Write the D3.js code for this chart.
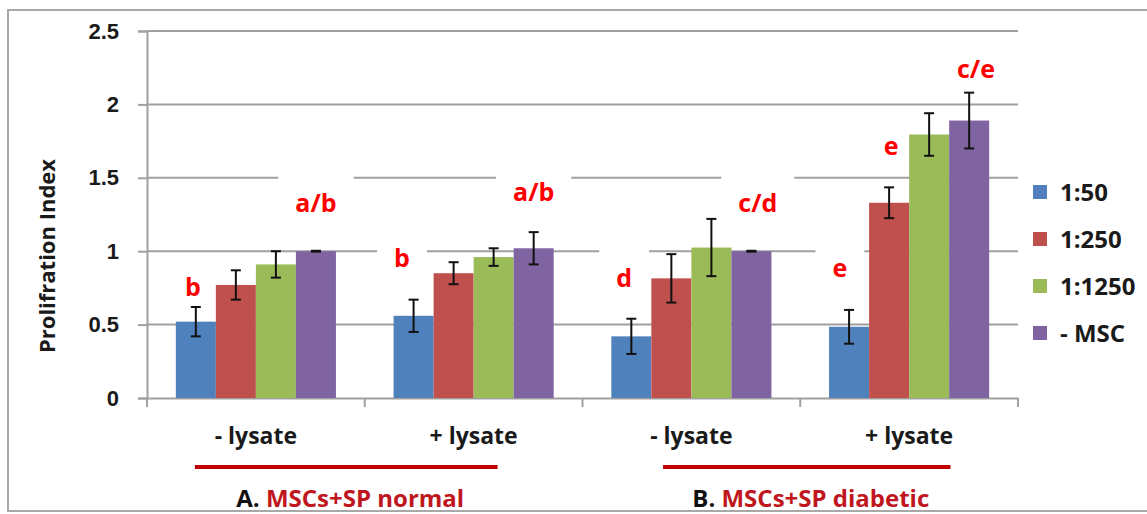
<!DOCTYPE html>
<html>
<head>
<meta charset="utf-8">
<script src="https://cdn.jsdelivr.net/npm/d3@7"></script>
<style>
  html, body { margin: 0; padding: 0; background: #fff; }
  svg { display: block; font-family: "Open Sans", "Liberation Sans", sans-serif; }
</style>
</head>
<body>
<div id="chart"></div>
<script>
//-- data
const categories = ["- lysate", "+ lysate", "- lysate", "+ lysate"];
const series = ["1:50", "1:250", "1:1250", "- MSC"];
const colors = ["#4f81bd", "#c0504d", "#9bbb59", "#8064a2"];
const means = [
  [0.52, 0.77, 0.91, 1.0],
  [0.56, 0.85, 0.96, 1.02],
  [0.42, 0.815, 1.025, 1.0],
  [0.485, 1.33, 1.795, 1.89]
];
const errors = [
  [0.1, 0.1, 0.09, 0.003],
  [0.11, 0.075, 0.06, 0.11],
  [0.12, 0.165, 0.195, 0.003],
  [0.115, 0.105, 0.145, 0.19]
];
const yTicks = [0, 0.5, 1, 1.5, 2, 2.5];
//-- significance letters: text, group, slot (series index), value
const letterText = ["b", "a/b", "b", "a/b", "d", "c/d", "e", "e", "c/e"];
const letterGroup = [0, 0, 1, 1, 2, 2, 3, 3, 3];
const letterSlot = [-0.07, 3, -0.29, 3, -0.18, 3.16, -0.23, 1.05, 3.17];
const letterValue = [0.756, 1.328, 0.954, 1.403, 0.817, 1.328, 0.886, 1.717, 2.241];
//-- panel captions under the axis
const panelPrefix = ["A.", "B."];
const panelNames = ["MSCs+SP normal", "MSCs+SP diabetic"];
const panelSpan = [[0.22, 1.61], [2.37, 3.69]];

//-- dimensions
const width = 1147;
const height = 514;
const plot = { left: 147, right: 1018, top: 31, bottom: 398 };
const gridColor = "#a0a0a0";

const svg = d3.select("#chart").append("svg")
  .attr("width", width)
  .attr("height", height);

//-- outer frame
svg.append("rect")
  .attr("x", 8).attr("y", 10)
  .attr("width", 1160).attr("height", 501)
  .attr("fill", "#fff")
  .attr("stroke", "#a8a8a8")
  .attr("stroke-width", 2);

const keys = categories.map((d, i) => i);
const x0 = d3.scaleBand().domain(keys).range([plot.left, plot.right]).padding(0);
const x1 = d3.scaleBand().domain(series).range([0, x0.bandwidth()])
  .paddingInner(0).paddingOuter(0.72);
const y = d3.scaleLinear().domain([0, 2.5]).range([plot.bottom, plot.top]);

const slotX = (g, s) => x0(g) + x1(series[0]) + s * x1.step() + x1.bandwidth() / 2;
const catX = (u) => plot.left + u * x0.step();

//-- gridlines + y axis
const yAxis = d3.axisLeft(y)
  .tickValues(yTicks)
  .tickSize(9)
  .tickPadding(19)
  .tickFormat((d) => d);
const yg = svg.append("g")
  .attr("transform", `translate(${plot.left},0)`)
  .call(yAxis);
yg.select(".domain").attr("stroke", gridColor).attr("stroke-width", 2);
yg.selectAll(".tick line").attr("stroke", gridColor).attr("stroke-width", 2);
yg.selectAll(".tick text")
  .attr("fill", "#1a1a1a")
  .style("font-size", "22px")
  .style("font-weight", 700);

svg.append("g")
  .selectAll("line")
  .data(yTicks.filter((d) => d > 0))
  .join("line")
  .attr("x1", plot.left).attr("x2", plot.right)
  .attr("y1", (d) => y(d)).attr("y2", (d) => y(d))
  .attr("stroke", gridColor)
  .attr("stroke-width", 2);

//-- x axis
const xAxis = d3.axisBottom(x0).tickValues([]).tickSizeOuter(0);
const xg = svg.append("g")
  .attr("transform", `translate(0,${plot.bottom})`)
  .call(xAxis);
xg.select(".domain").attr("stroke", gridColor).attr("stroke-width", 2);
xg.selectAll("line.sep")
  .data(d3.range(keys.length + 1))
  .join("line")
  .attr("class", "sep")
  .attr("x1", (d) => catX(d)).attr("x2", (d) => catX(d))
  .attr("y1", 0).attr("y2", 9)
  .attr("stroke", gridColor)
  .attr("stroke-width", 2);

//-- category labels
svg.append("g")
  .selectAll("text")
  .data(keys)
  .join("text")
  .attr("x", (d) => x0(d) + x0.bandwidth() / 2)
  .attr("y", 444)
  .attr("text-anchor", "middle")
  .attr("fill", "#1a1a1a")
  .style("font-size", "23px")
  .style("font-weight", 700)
  .text((d) => categories[d]);

//-- letter boxes (white, they hide the gridlines behind them)
const letters = letterText.map((t, i) => ({
  text: t,
  x: slotX(letterGroup[i], letterSlot[i]),
  y: y(letterValue[i])
}));
const boxes = svg.append("g");
const letterG = svg.append("g");

//-- bars
const groups = svg.append("g")
  .selectAll("g")
  .data(keys)
  .join("g")
  .attr("transform", (d) => `translate(${x0(d)},0)`);

groups.selectAll("rect")
  .data((g) => series.map((s, i) => ({ s, i, v: means[g][i], e: errors[g][i] })))
  .join("rect")
  .attr("x", (d) => x1(d.s))
  .attr("y", (d) => y(d.v))
  .attr("width", x1.bandwidth())
  .attr("height", (d) => y(0) - y(d.v))
  .attr("fill", (d) => colors[d.i]);

//-- error bars
const cap = 5;
const err = groups.selectAll("g.err")
  .data((g) => series.map((s, i) => ({ s, v: means[g][i], e: errors[g][i] })))
  .join("g")
  .attr("class", "err")
  .attr("stroke", "#111")
  .attr("stroke-width", 2);
err.append("line")
  .attr("x1", (d) => x1(d.s) + x1.bandwidth() / 2)
  .attr("x2", (d) => x1(d.s) + x1.bandwidth() / 2)
  .attr("y1", (d) => y(d.v + d.e))
  .attr("y2", (d) => y(d.v - d.e));
err.append("line")
  .attr("x1", (d) => x1(d.s) + x1.bandwidth() / 2 - cap)
  .attr("x2", (d) => x1(d.s) + x1.bandwidth() / 2 + cap)
  .attr("y1", (d) => y(d.v + d.e))
  .attr("y2", (d) => y(d.v + d.e));
err.append("line")
  .attr("x1", (d) => x1(d.s) + x1.bandwidth() / 2 - cap)
  .attr("x2", (d) => x1(d.s) + x1.bandwidth() / 2 + cap)
  .attr("y1", (d) => y(d.v - d.e))
  .attr("y2", (d) => y(d.v - d.e));

//-- letters
const lt = letterG.selectAll("text")
  .data(letters)
  .join("text")
  .attr("x", (d) => d.x)
  .attr("y", (d) => d.y)
  .attr("dy", "0.35em")
  .attr("text-anchor", "middle")
  .attr("fill", "#ff0000")
  .style("font-size", "25px")
  .style("font-weight", 700)
  .text((d) => d.text);
lt.each(function (d) {
  const w = this.getComputedTextLength();
  boxes.append("rect")
    .attr("x", d.x - w / 2 - 17)
    .attr("y", d.y - 32)
    .attr("width", w + 34)
    .attr("height", 46)
    .attr("fill", "#fff");
});

//-- legend
const legend = svg.append("g")
  .selectAll("g")
  .data(series)
  .join("g")
  .attr("transform", (d, i) => `translate(1033,${192 + i * 47})`);
legend.append("rect")
  .attr("x", 0).attr("y", -7)
  .attr("width", 14).attr("height", 14)
  .attr("fill", (d, i) => colors[i]);
legend.append("text")
  .attr("x", 27).attr("y", 0)
  .attr("dy", "0.36em")
  .attr("fill", "#1a1a1a")
  .style("font-size", "24px")
  .style("font-weight", 700)
  .text((d) => d);

//-- y title
svg.append("text")
  .attr("transform", "translate(55,256) rotate(-90)")
  .attr("text-anchor", "middle")
  .attr("fill", "#1a1a1a")
  .style("font-size", "22px")
  .style("font-weight", 700)
  .text("Prolifration Index");

//-- panel captions
panelSpan.forEach((sp, i) => {
  svg.append("line")
    .attr("x1", catX(sp[0])).attr("x2", catX(sp[1]))
    .attr("y1", 467).attr("y2", 467)
    .attr("stroke", "#c00000")
    .attr("stroke-width", 4);
  const t = svg.append("text")
    .attr("x", (catX(sp[0]) + catX(sp[1])) / 2 + 4)
    .attr("y", 507)
    .attr("text-anchor", "middle")
    .style("font-size", "24px")
    .style("font-weight", 700);
  t.append("tspan").attr("fill", "#111").text(panelPrefix[i] + " ");
  t.append("tspan").attr("fill", "#c0161d").text(panelNames[i]);
});
</script>
</body>
</html>
